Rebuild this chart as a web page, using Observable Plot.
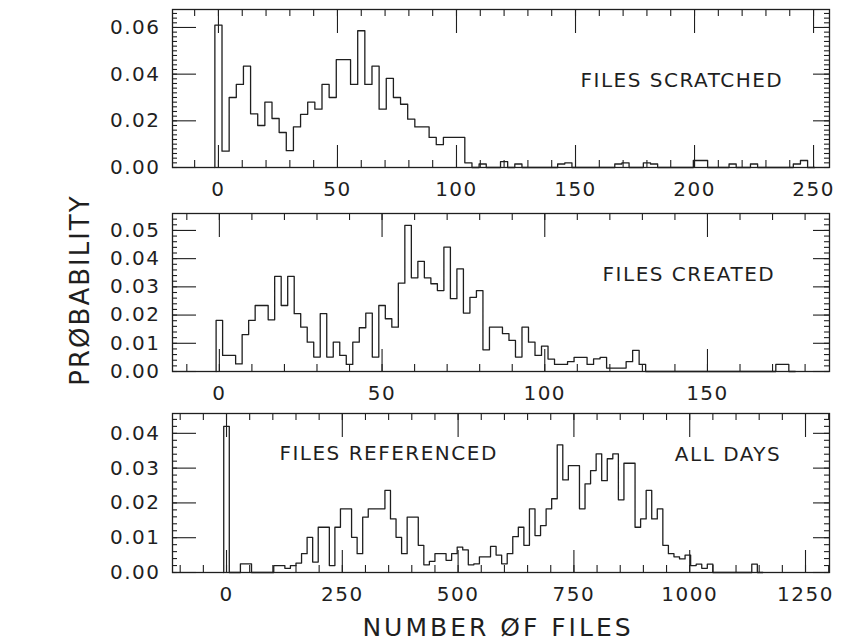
<!DOCTYPE html>
<html>
<head>
<meta charset="utf-8">
<script src="https://cdn.jsdelivr.net/npm/d3@7"></script>
<script src="https://cdn.jsdelivr.net/npm/@observablehq/plot@0.6"></script>
<style>
  body { margin: 0; background: #fff; }
  #chart { position: relative; width: 851px; height: 644px; overflow: hidden; background: #fff;
           font-family: "DejaVu Sans", sans-serif; color: #1f1f1f; }
  .panel { position: absolute; left: 0; }
  .ytitle { position: absolute; left: 80px; top: 290px; transform: translate(-50%, -50%) rotate(-90deg);
            font-size: 26px; letter-spacing: 2px; white-space: nowrap; }
  .xtitle { position: absolute; left: 498px; top: 627px; transform: translate(-50%, -50%);
            font-size: 25px; letter-spacing: 3px; white-space: nowrap; }
</style>
</head>
<body>
<div id="chart">
  <div class="ytitle">PRØBABILITY</div>
  <div class="xtitle">NUMBER ØF FILES</div>
</div>
<script>
// ---------- DATA ----------
// Files scratched: histogram, bins 3 files wide, first bin centred on 0
const scratchedBinStart = -1.5;
const scratchedBinWidth = 3;
const scratchedP = [
  0.061, 0.007, 0.030, 0.0356, 0.0434, 0.023, 0.018, 0.028, 0.021, 0.015,
  0.0072, 0.0174, 0.0228, 0.028, 0.025, 0.0356, 0.030, 0.0462, 0.0462, 0.0356,
  0.0586, 0.0356, 0.0434, 0.025, 0.0382, 0.030, 0.0271, 0.0207, 0.0174, 0.0174,
  0.0129, 0.0098, 0.0129, 0.0129, 0.0129, 0.002, 0, 0.0015, 0, 0,
  0.0025, 0, 0.0015, 0, 0, 0, 0, 0, 0.0015, 0.002,
  0, 0, 0, 0, 0, 0, 0.0015, 0.002, 0, 0,
  0.002, 0.0015, 0, 0, 0, 0, 0, 0.003, 0.003, 0,
  0, 0, 0.0015, 0, 0, 0.0015, 0, 0, 0, 0,
  0, 0.0015, 0.003, 0
];

// Files created: histogram, bins 2 files wide, first bin centred on 0
const createdBinStart = -1;
const createdBinWidth = 2;
const createdP = [
  0.0181, 0.0057, 0.0057, 0.0027, 0.0131, 0.0181, 0.0234, 0.0234, 0.0183, 0.0337,
  0.0234, 0.0337, 0.0205, 0.0157, 0.0104, 0.0051, 0.0205, 0.0051, 0.0104, 0.0057,
  0.0025, 0.0104, 0.0155, 0.0207, 0.0051, 0.0234, 0.0187, 0.0157, 0.0313, 0.0518,
  0.0332, 0.039, 0.0332, 0.0311, 0.0287, 0.0441, 0.0258, 0.0364, 0.0207, 0.0263,
  0.0287, 0.0077, 0.0157, 0.0157, 0.0134, 0.011, 0.0051, 0.0157, 0.0104, 0.0057,
  0.009, 0.0044, 0.0025, 0.0025, 0.0035, 0.005, 0.005, 0.0025, 0.0045, 0.005,
  0.0012, 0.0012, 0.0012, 0.0035, 0.0075, 0.0025, 0, 0, 0, 0,
  0, 0, 0, 0, 0, 0, 0, 0, 0, 0,
  0, 0, 0, 0, 0, 0, 0.0025, 0.0025, 0
];

// Files referenced (all days): histogram, bins 12 files wide, first bin centred on 0
const referencedBinStart = -6;
const referencedBinWidth = 12;
const referencedP = [
  0.042, 0, 0, 0.0025, 0.0025, 0, 0, 0, 0, 0.002,
  0.002, 0.0012, 0.002, 0.0027, 0.0054, 0.0101, 0.003, 0.013, 0.013, 0.002,
  0.013, 0.0183, 0.0183, 0.0101, 0.0054, 0.0159, 0.0183, 0.0183, 0.0183, 0.0236,
  0.0154, 0.0101, 0.0054, 0.0159, 0.0159, 0.0078, 0.0022, 0.0032, 0.0054, 0.0054,
  0.0035, 0.0054, 0.0073, 0.0065, 0.0022, 0.0025, 0.0045, 0.0045, 0.0075, 0.005,
  0.0025, 0.0054, 0.0103, 0.013, 0.0078, 0.0183, 0.0106, 0.0135, 0.0183, 0.0212,
  0.0367, 0.0266, 0.0307, 0.0307, 0.0183, 0.0255, 0.0293, 0.0341, 0.0264, 0.0327,
  0.0341, 0.0209, 0.0314, 0.0314, 0.013, 0.0154, 0.0236, 0.0154, 0.0183, 0.0078,
  0.0054, 0.0045, 0.0039, 0.005, 0.002, 0.0024, 0.0012, 0.0024, 0, 0,
  0, 0, 0, 0, 0, 0.0024, 0
];

// Axis ticks
const scratchedXTicks = [0, 50, 100, 150, 200, 250];
const scratchedYTicks = [0, 0.02, 0.04, 0.06];
const createdXTicks = [0, 50, 100, 150];
const createdYTicks = [0, 0.01, 0.02, 0.03, 0.04, 0.05];
const referencedXTicks = [0, 250, 500, 750, 1000, 1250];
const referencedYTicks = [0, 0.01, 0.02, 0.03, 0.04];

// Panel captions
const scratchedLabels = ["FILES SCRATCHED"];
const createdLabels = ["FILES CREATED"];
const referencedLabels = ["FILES REFERENCED", "ALL DAYS"];

// ---------- DRAWING ----------
const ink = "#1f1f1f";
const W = 851, ML = 172, MR = 22;
const frameW = W - ML - MR;

function stepSeries(start, width, values) {
  const pts = [{x: start, p: 0}];
  values.forEach((v, i) => pts.push({x: start + i * width, p: v}));
  pts.push({x: start + values.length * width, p: 0});
  return pts;
}

function panel({top, height, marginTop, marginBottom, xDomain, yDomain, xTicks, xMinor, yTicks, yMinor, series, texts}) {
  const frameH = height - marginTop - marginBottom;
  // inward tick marks: full-span rules trimmed by pixel insets
  const tickB = (t, len) => Plot.ruleX(t, {x: d => d, insetTop: frameH - len, stroke: ink, strokeWidth: 1.1});
  const tickT = (t, len) => Plot.ruleX(t, {x: d => d, insetBottom: frameH - len, stroke: ink, strokeWidth: 1.1});
  const tickL = (t, len) => Plot.ruleY(t, {y: d => d, insetRight: frameW - len, stroke: ink, strokeWidth: 1.1});
  const tickR = (t, len) => Plot.ruleY(t, {y: d => d, insetLeft: frameW - len, stroke: ink, strokeWidth: 1.1});
  const svg = Plot.plot({
    width: W,
    height,
    marginLeft: ML,
    marginRight: MR,
    marginTop,
    marginBottom,
    style: `font-family: 'DejaVu Sans', sans-serif; font-size: 20px; letter-spacing: 1.5px; color: ${ink}; background: transparent; overflow: visible;`,
    x: {domain: xDomain},
    y: {domain: yDomain},
    marks: [
      Plot.frame({stroke: ink, strokeWidth: 1.3}),
      tickB(xMinor, 7), tickB(xTicks, 22),
      tickT(xMinor, 7), tickT(xTicks, 24),
      tickL(yMinor, 5), tickL(yTicks, 24),
      tickR(yMinor, 5), tickR(yTicks, 16),
      Plot.axisX(xTicks, {anchor: "bottom", tickSize: 0, tickPadding: 14, label: null, fill: ink, tickFormat: d3.format("d")}),
      Plot.axisY(yTicks, {anchor: "left", tickSize: 0, tickPadding: 12, label: null, fill: ink, tickFormat: d3.format(".2f")}),
      Plot.line(series, {x: "x", y: "p", curve: "step-after", stroke: ink, strokeWidth: 1.3}),
      Plot.text(texts, {x: "x", y: "y", text: "text", fill: ink, fontSize: 20, textAnchor: "middle"})
    ]
  });
  svg.classList.add("panel");
  svg.style.top = top + "px";
  document.getElementById("chart").appendChild(svg);
}

panel({
  top: 0, height: 200, marginTop: 9, marginBottom: 33,
  xDomain: [-19.3, 256.7], yDomain: [0, 0.0677],
  xTicks: scratchedXTicks, xMinor: d3.range(-10, 251, 10),
  yTicks: scratchedYTicks, yMinor: d3.range(0, 0.0677, 0.002),
  series: stepSeries(scratchedBinStart, scratchedBinWidth, scratchedP),
  texts: [{x: 194.7, y: 0.0374, text: scratchedLabels[0]}]
});

panel({
  top: 200, height: 200, marginTop: 13, marginBottom: 29,
  xDomain: [-14.4, 187.5], yDomain: [0, 0.056],
  xTicks: createdXTicks, xMinor: d3.range(-10, 181, 10),
  yTicks: createdYTicks, yMinor: d3.range(0, 0.056, 0.002),
  series: stepSeries(createdBinStart, createdBinWidth, createdP),
  texts: [{x: 144.3, y: 0.0344, text: createdLabels[0]}]
});

panel({
  top: 400, height: 244, marginTop: 13, marginBottom: 72,
  xDomain: [-116.6, 1301.8], yDomain: [0, 0.0457],
  xTicks: referencedXTicks, xMinor: d3.range(-100, 1301, 50),
  yTicks: referencedYTicks, yMinor: d3.range(0, 0.0457, 0.002),
  series: stepSeries(referencedBinStart, referencedBinWidth, referencedP),
  texts: [
    {x: 350, y: 0.0342, text: referencedLabels[0]},
    {x: 1082.7, y: 0.0339, text: referencedLabels[1]}
  ]
});
</script>
</body>
</html>
